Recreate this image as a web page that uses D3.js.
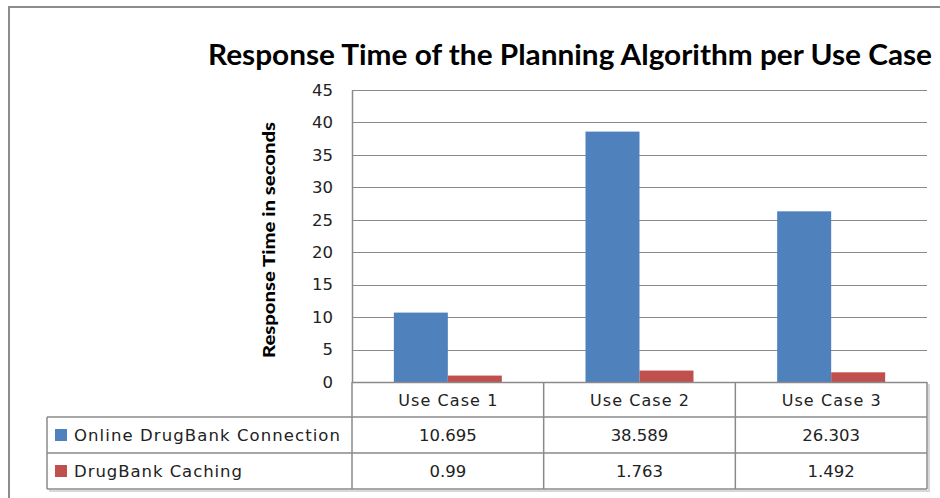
<!DOCTYPE html>
<html><head><meta charset="utf-8">
<script src="https://cdn.jsdelivr.net/npm/d3@7"></script>
<style>body{margin:0;background:#fff}svg{display:block}</style>
</head><body>
<svg id="c" width="940" height="498"></svg>
<script>
const categories = ["Use Case 1", "Use Case 2", "Use Case 3"];
const seriesNames = ["Online DrugBank Connection", "DrugBank Caching"];
const online = [10.695, 38.589, 26.303];
const caching = [0.99, 1.763, 1.492];
const valueLabels = [["10.695", "38.589", "26.303"], ["0.99", "1.763", "1.492"]];
const yTicks = [0, 5, 10, 15, 20, 25, 30, 35, 40, 45];
const colors = ["#4F81BD", "#C0504D"];
const seriesValues = [online, caching];

const svg = d3.select("#c");
const L = 352, R = 927, T = 90, B = 382;
const tableLeft = 47, rowH = [35, 36, 36];

// outer border
svg.append("path").attr("d", "M9,500 V7 H942").attr("fill", "none").attr("stroke", "#8c8c8c").attr("stroke-width", 2);

const y = d3.scaleLinear().domain([0, 45]).range([B, T]);
const x = d3.scaleBand().domain(categories).range([L, R]).padding(0);
const x1 = d3.scaleBand().domain(seriesNames).range([0, x.bandwidth()]).paddingInner(0).paddingOuter(0.775);

// gridlines
svg.append("g").selectAll("line").data(yTicks.filter(d => d > 0)).join("line")
  .attr("x1", L).attr("x2", R).attr("y1", d => Math.round(y(d)) + 0.5).attr("y2", d => Math.round(y(d)) + 0.5)
  .attr("stroke", "#8a8a8a").attr("stroke-width", 1);

// y axis
const yAxis = d3.axisLeft(y).tickValues(yTicks).tickSize(0).tickPadding(19);
const gy = svg.append("g").attr("transform", `translate(${L},0)`).call(yAxis);
gy.select(".domain").attr("stroke", "#8a8a8a").attr("stroke-width", 1.5);
gy.selectAll("text").attr("font-family", "Verdana, 'DejaVu Sans', sans-serif").attr("font-size", 16.5).attr("fill", "#222");

// bars
const gb = svg.append("g");
seriesNames.forEach((s, si) => {
  gb.selectAll(".b" + si).data(categories).join("rect")
    .attr("x", (c) => x(c) + x1(s))
    .attr("width", x1.bandwidth())
    .attr("y", (c, i) => y(seriesValues[si][i]))
    .attr("height", (c, i) => B - y(seriesValues[si][i]))
    .attr("fill", colors[si]);
});

// x axis line
svg.append("line").attr("x1", L).attr("x2", R).attr("y1", B + 0.5).attr("y2", B + 0.5).attr("stroke", "#8a8a8a").attr("stroke-width", 1.5);

// data table
const tg = svg.append("g");
const r0 = B, r1 = B + rowH[0], r2 = r1 + rowH[1], r3 = r2 + rowH[2];
const stroke = "#8a8a8a";
function ln(x1_, y1_, x2_, y2_) {
  tg.append("line").attr("x1", x1_).attr("y1", y1_).attr("x2", x2_).attr("y2", y2_).attr("stroke", stroke).attr("stroke-width", 1.5);
}
// shadow
tg.append("path").attr("d", `M${tableLeft + 2},${r3 + 2} H${R + 2} V${r0 + 2}`).attr("fill", "none").attr("stroke", "#d8d8d8").attr("stroke-width", 2);
ln(tableLeft, r1, R, r1); ln(tableLeft, r2, R, r2); ln(tableLeft, r3, R, r3);
ln(tableLeft, r1, tableLeft, r3);
const bounds = [L, ...categories.map(c => x(c) + x.bandwidth())];
bounds.forEach(b => ln(b, r0, b, r3));

const font = "Verdana, 'DejaVu Sans', sans-serif";
tg.selectAll(".cat").data(categories).join("text")
  .attr("x", c => x(c) + x.bandwidth() / 2).attr("y", (r0 + r1) / 2 + 6)
  .attr("text-anchor", "middle").attr("font-family", font).attr("font-size", 16).attr("fill", "#222")
  .attr("textLength", 99).attr("lengthAdjust", "spacing")
  .text(c => c);

const rowTops = [r1, r2];
seriesNames.forEach((s, si) => {
  const cy = rowTops[si] + rowH[si + 1] / 2;
  tg.append("rect").attr("x", 55).attr("y", cy - 6).attr("width", 12).attr("height", 12).attr("fill", colors[si]);
  tg.append("text").attr("x", 74).attr("y", cy + 6).attr("font-family", font).attr("font-size", 16.5).attr("fill", "#222")
    .attr("textLength", si === 0 ? 266 : 168).attr("lengthAdjust", "spacing").text(s);
  tg.selectAll(".v" + si).data(categories).join("text")
    .attr("x", c => x(c) + x.bandwidth() / 2).attr("y", cy + 6)
    .attr("text-anchor", "middle").attr("font-family", font).attr("font-size", 16.5).attr("fill", "#222")
    .text((c, i) => valueLabels[si][i]);
});

// title
svg.append("text").attr("x", 208).attr("y", 65).attr("font-family", "Lato, 'Open Sans', sans-serif").attr("font-weight", 700)
  .attr("font-size", 28).attr("fill", "#000").attr("textLength", 724).attr("lengthAdjust", "spacingAndGlyphs")
  .text("Response Time of the Planning Algorithm per Use Case");

// y axis title
svg.append("text").attr("transform", "translate(275,240) rotate(-90)").attr("text-anchor", "middle")
  .attr("font-family", "Lato, 'Open Sans', sans-serif").attr("font-weight", 900).attr("font-size", 17).attr("fill", "#000")
  .attr("textLength", 236).attr("lengthAdjust", "spacingAndGlyphs")
  .text("Response Time in seconds");
</script>
</body></html>
